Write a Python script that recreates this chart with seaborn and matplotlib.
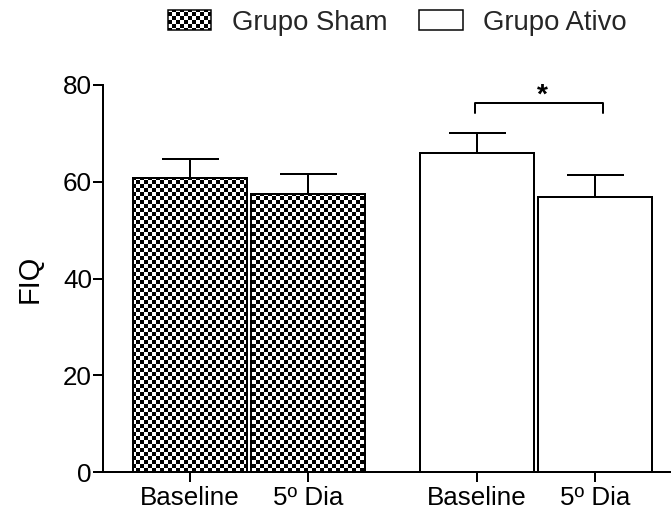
import numpy as np
import pandas as pd
import matplotlib
matplotlib.use("Agg")
import matplotlib.pyplot as plt
import matplotlib.hatch as mhatch
from matplotlib.path import Path
from matplotlib.patches import Patch
import seaborn as sns

# ---- data ----
groups = ["Grupo Sham", "Grupo Sham", "Grupo Ativo", "Grupo Ativo"]
timepoints = ["Baseline", "5º Dia", "Baseline", "5º Dia"]
fiq_mean = [60.8, 57.4, 65.9, 56.9]
fiq_sem = [4.0, 4.2, 4.1, 4.4]
bar_pos = [0.0, 1.0, 2.432, 3.432]
yticks = [0, 20, 40, 60, 80]
legend_labels = ["Grupo Sham", "Grupo Ativo"]
sig_pair = (2, 3)
sig_label = "*"
sig_bracket_y = 76.2
sig_bracket_drop = 2.0


# ---- checkerboard hatch (replaces the 'O' large-circle hatch) ----
class CheckerHatch(mhatch.HatchPatternBase):
    def __init__(self, hatch, density):
        self.n = 18 if "O" in hatch else 0
        self.num_vertices = (self.n * self.n // 2) * 5

    def set_vertices_and_codes(self, vertices, codes):
        n = self.n
        s = 1.0 / n
        k = 0
        for i in range(n):
            for j in range(n):
                if (i + j) % 2 == 0:
                    x0, y0 = i * s, j * s
                    vertices[k:k + 5] = [(x0, y0), (x0 + s, y0), (x0 + s, y0 + s),
                                         (x0, y0 + s), (x0, y0)]
                    codes[k:k + 5] = [Path.MOVETO, Path.LINETO, Path.LINETO,
                                      Path.LINETO, Path.CLOSEPOLY]
                    k += 5


mhatch._hatch_types = [t for t in mhatch._hatch_types
                       if t is not mhatch.LargeCircles] + [CheckerHatch]

sns.set_style("ticks")
plt.rcParams["font.family"] = ["Liberation Sans", "DejaVu Sans"]
plt.rcParams["hatch.linewidth"] = 0.0
plt.rcParams["hatch.color"] = "black"

W, H, DPI = 671, 518, 72
fig = plt.figure(figsize=(W / DPI, H / DPI), dpi=DPI)
ax = fig.add_axes([103 / W, 46 / H, 1 - 103 / W, (472 - 85) / H])

df = pd.DataFrame({"pos": bar_pos, "fiq": fiq_mean, "group": groups})
sns.barplot(data=df, x="pos", y="fiq", native_scale=True, width=0.958,
            color="white", saturation=1, edgecolor="black", linewidth=2,
            errorbar=None, ax=ax)

for p in ax.patches:
    c = p.get_x() + p.get_width() / 2
    idx = int(np.argmin([abs(c - b) for b in bar_pos]))
    p.set_facecolor("white")
    p.set_edgecolor("black")
    if groups[idx] == "Grupo Sham":
        p.set_hatch("O")

ax.errorbar(bar_pos, fiq_mean, yerr=[np.zeros(len(fiq_sem)), fiq_sem],
            fmt="none", ecolor="black", elinewidth=2, capsize=28.5, capthick=2,
            zorder=3)

ax.set_xlim(-0.737, 4.076)
ax.set_ylim(0, 80)
ax.set_yticks(yticks)
ax.set_xticks(bar_pos)
ax.set_xticklabels(timepoints)
ax.set_xlabel("")
sns.despine(ax=ax)
for s in ("left", "bottom"):
    ax.spines[s].set_linewidth(2)
    ax.spines[s].set_color("black")
ax.tick_params(axis="both", direction="out", length=10, width=2,
               labelsize=26, colors="black")
ax.tick_params(axis="x", pad=4)
ax.tick_params(axis="y", pad=1)

ax.set_ylabel("FIQ", fontsize=29, color="black")
ax.yaxis.label.set_va("center")
ax.yaxis.set_label_coords((29.5 - 103) / (W - 103), 0.5)

# significance bracket
x1 = bar_pos[sig_pair[0]] - 0.02
x2 = bar_pos[sig_pair[1]] + 0.07
ax.plot([x1, x1, x2, x2],
        [sig_bracket_y - sig_bracket_drop, sig_bracket_y, sig_bracket_y,
         sig_bracket_y - sig_bracket_drop],
        color="black", lw=2, clip_on=False)
ax.text((x1 + x2) / 2 + 0.03, sig_bracket_y + 0.2, sig_label, ha="center",
        va="baseline", fontsize=28, fontweight="bold", color="black",
        clip_on=False)

handles = [Patch(facecolor="white", edgecolor="black", hatch="O", linewidth=1.5,
                 label=legend_labels[0]),
           Patch(facecolor="white", edgecolor="black", linewidth=1.5,
                 label=legend_labels[1])]
fig.legend(handles=handles, loc="center left",
           bbox_to_anchor=(168 / W, 1 - 22.5 / H), ncol=2, frameon=False,
           fontsize=27.5, handlelength=1.57, handleheight=0.7, handletextpad=0.76,
           columnspacing=1.15, borderpad=0, borderaxespad=0)

fig.savefig("out.png", dpi=DPI)
